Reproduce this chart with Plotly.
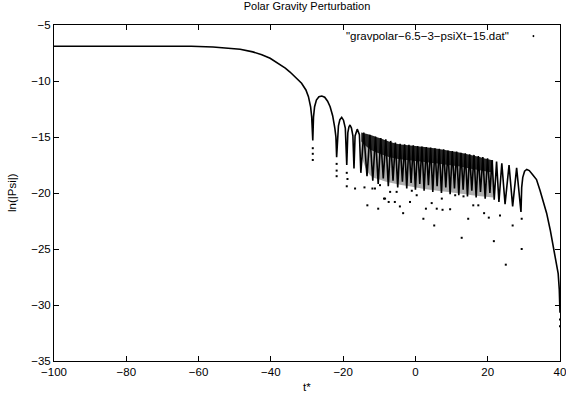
import plotly.graph_objects as go

# Main curve ln|Psi| vs t* (peaks and dips of each lobe)
main_t = [-100, -80, -70, -62, -56, -52, -48.5, -45, -42.5, -40.2, -38, -36, -34.7, -33, -31.5, -30.3,
          -29.6, -29.0, -28.7, -28.4,
          -28.2, -27.9, -27.4, -26.7, -25.9, -25.1, -24.3, -23.6, -22.9, -22.3, -22.0, -21.8,
          -21.6, -21.3, -20.9, -20.4, -19.9, -19.4, -19.0,
          -18.7, -18.4, -18.1, -17.7, -17.3, -17.0,
          -16.7, -16.1, -15.5, -15.1,
          -14.3, -13.4,
          -12.6, -11.8, -11.05, -10.3, -9.6, -8.9, -8.2, -7.5, -6.85, -6.2, -5.55, -4.9,
          -4.25, -3.6, -3.0, -2.4, -1.8, -1.2, -0.6, 0.0, 0.6, 1.2, 1.8, 2.4, 3.0, 3.6,
          4.2, 4.8, 5.4, 6.0, 6.6, 7.2, 7.8, 8.4, 9.0, 9.6, 10.2, 10.8, 11.4, 12.0,
          12.6, 13.2, 13.8, 14.4, 15.0, 15.6, 16.2, 16.8, 17.4, 18.0, 18.65, 19.3,
          19.95, 20.6, 21.2, 21.8, 22.45, 23.1, 23.9, 24.8, 25.9, 26.9, 28.0, 29.2,
          29.4, 29.7, 30.2, 30.8, 31.5, 32.5, 33.5, 34.5, 35.5, 36.3, 37.3, 38.2, 39.0,
          39.5, 39.8, 40.0]
main_psi = [-6.9, -6.9, -6.9, -6.9, -6.97, -7.05, -7.17, -7.4, -7.65, -7.97, -8.4, -8.85, -9.2, -9.7, -10.2, -10.8,
            -11.4, -12.3, -13.2, -15.3,
            -13.2, -12.3, -11.7, -11.4, -11.34, -11.45, -11.8, -12.3, -13.1, -14.2, -15.0, -16.8,
            -15.0, -14.0, -13.45, -13.24, -13.5, -14.2, -17.5,
            -14.6, -14.1, -13.93, -14.2, -14.9, -17.8,
            -14.9, -14.3, -14.8, -18.2,
            -14.6, -18.5,
            -14.8, -18.9, -14.95, -19.2, -15.1, -18.7, -15.2, -19.4, -15.35, -18.9, -15.5, -19.5,
            -15.6, -19.0, -15.65, -19.6, -15.7, -19.1, -15.75, -19.7, -15.8, -19.2, -15.85, -19.8, -15.9, -19.3,
            -15.95, -19.9, -16.0, -19.4, -16.05, -20.0, -16.1, -19.5, -16.2, -20.1, -16.25, -19.6, -16.3, -20.2,
            -16.4, -19.7, -16.45, -20.3, -16.55, -19.8, -16.6, -20.4, -16.7, -19.9, -16.8, -20.5,
            -16.9, -20.0, -17.05, -20.6, -17.2, -20.8, -17.35, -21.0, -17.5, -21.2, -17.75, -21.7,
            -19.5, -18.6, -18.05, -17.9, -18.0, -18.4, -18.8, -19.8, -20.9, -21.8, -23.3, -24.8, -26.2,
            -27.2, -28.6, -30.7]

# Unresolved fast oscillation region: dense dark band and lighter dotted zone below it
band_t = [-15.0, -12.6, -9.0, -5.2, 0.0, 4.0, 9.0, 13.2, 18.0, 21.5]
band_top = [-14.6, -14.8, -15.2, -15.6, -15.8, -15.95, -16.2, -16.45, -16.8, -17.1]
band_dark_bottom = [-15.4, -16.1, -16.6, -16.95, -17.15, -17.3, -17.5, -17.7, -18.0, -18.2]
band_light_bottom = [-16.6, -18.4, -18.9, -19.2, -19.5, -19.7, -19.9, -20.1, -20.3, -20.4]

# Sparse points lying below the lobes (near the dips)
sparse_t = [-28.4, -28.4, -28.4, -21.8, -21.8, -21.8, -19.0, -18.8, -19.0, -16.7, -14.1, -13.3, -11.9,
            -11.2, -10.3, -9.8, -8.7, -8.4, -7.4, -7.0, -5.7, -5.2, -4.3, -3.4, -1.5, -1.0, 0.35, 2.2, 2.9,
            4.5, 5.2, 5.9, 7.3, 7.5, 9.6, 11.0, 12.8, 13.3, 14.6, 16.0, 17.4, 19.0, 20.3, 21.7, 23.4,
            25.0, 26.9, 29.4, 29.4, 40.0, 40.0]
sparse_psi = [-16.0, -16.5, -17.05, -17.4, -18.0, -18.5, -18.2, -18.75, -19.4, -19.6, -19.5, -21.1, -19.6,
              -19.6, -21.4, -19.3, -20.5, -20.5, -20.8, -19.9, -20.8, -19.9, -21.2, -21.8, -20.8, -19.8, -20.2,
              -22.3, -21.4, -20.9, -22.9, -21.4, -20.5, -21.5, -21.45, -20.2, -24.0, -20.3, -22.3, -21.1,
              -21.1, -21.8, -22.2, -24.3, -22.0, -26.4, -22.9, -25.0, -22.3, -31.9, -31.3]

title_text = "Polar Gravity Perturbation"
legend_text = "\"gravpolar\u22126.5\u22123\u2212psiXt\u221215.dat\""
x_ticks = [-100, -80, -60, -40, -20, 0, 20, 40]
y_ticks = [-35, -30, -25, -20, -15, -10, -5]

FONT = "Liberation Sans, Arial, sans-serif"

fig = go.Figure()
# light dotted zone
fig.add_trace(go.Scatter(x=band_t, y=band_dark_bottom, mode="lines", line=dict(width=0),
                         line_shape="spline", showlegend=False, hoverinfo="skip"))
fig.add_trace(go.Scatter(x=band_t, y=band_light_bottom, mode="lines", line=dict(width=0),
                         fill="tonexty", fillcolor="rgba(0,0,0,0.32)", line_shape="spline",
                         showlegend=False, hoverinfo="skip"))
# dark band
fig.add_trace(go.Scatter(x=band_t, y=band_top, mode="lines", line=dict(width=0), line_shape="spline",
                         showlegend=False, hoverinfo="skip"))
fig.add_trace(go.Scatter(x=band_t, y=band_dark_bottom, mode="lines", line=dict(width=0),
                         fill="tonexty", fillcolor="rgba(0,0,0,0.85)", line_shape="spline",
                         showlegend=False, hoverinfo="skip"))
fig.add_trace(go.Scatter(x=main_t, y=main_psi, mode="lines",
                         line=dict(color="black", width=1.6), showlegend=False,
                         hoverinfo="skip"))
fig.add_trace(go.Scatter(x=sparse_t, y=sparse_psi, mode="markers",
                         marker=dict(color="black", size=2, symbol="square"),
                         showlegend=False, hoverinfo="skip"))

axis_common = dict(showline=True, linecolor="black", linewidth=1, mirror="allticks",
                   ticks="inside", ticklen=5, tickcolor="black", tickwidth=1,
                   showgrid=False, zeroline=False, ticklabeloverflow="allow", automargin=False,
                   tickfont=dict(family=FONT, size=11.5, color="black"))

fig.update_xaxes(range=[-100, 40], tickvals=x_ticks, **axis_common)
fig.update_yaxes(range=[-35, -5], tickvals=y_ticks, **axis_common)

fig.update_layout(
    width=566, height=397,
    margin=dict(l=54, r=6, t=25, b=36),
    plot_bgcolor="white", paper_bgcolor="white",
    font=dict(family=FONT, size=11.5, color="black"),
    title=dict(text=title_text, x=0.5, xref="paper", y=1, yref="container",
               yanchor="top", pad=dict(t=2), font=dict(family=FONT, size=11, color="black")),
    annotations=[
        dict(text=legend_text, xref="paper", yref="paper", x=0.904, y=0.967,
             xanchor="right", yanchor="middle", showarrow=False,
             font=dict(family=FONT, size=11.5, color="black")),
        dict(text="t*", xref="paper", yref="paper", x=0.5, y=-0.054,
             xanchor="center", yanchor="top", showarrow=False,
             font=dict(family=FONT, size=11.5, color="black")),
        dict(text="ln(|Psi|)", xref="paper", yref="paper", x=-0.083, y=0.5,
             xanchor="center", yanchor="middle", textangle=-90, showarrow=False,
             font=dict(family=FONT, size=11.5, color="black")),
    ],
    shapes=[
        dict(type="rect", xref="paper", yref="paper", x0=0.946, x1=0.949, y0=0.964, y1=0.970,
             fillcolor="black", line=dict(width=0)),
    ],
)

fig.write_html("out.html")
